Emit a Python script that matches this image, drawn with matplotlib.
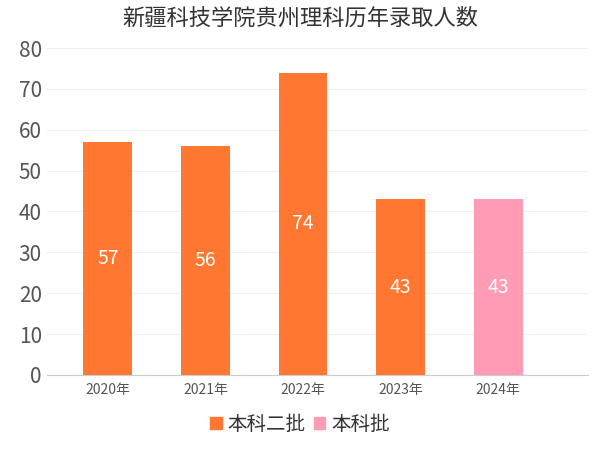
import matplotlib
matplotlib.use("Agg")
import matplotlib.pyplot as plt
from matplotlib.patches import Patch
from matplotlib import font_manager as fm

cjk = None
for f in fm.findSystemFonts():
    n = f.lower()
    if "notosanscjk" in n.replace(" ", "").replace("-", "") or "notosanscjk" in n.replace("_", ""):
        if "regular" in n or cjk is None:
            cjk = f
if cjk:
    fm.fontManager.addfont(cjk)
    name = fm.FontProperties(fname=cjk).get_name()
    plt.rcParams["font.family"] = [name, "DejaVu Sans"]
else:
    plt.rcParams["font.family"] = ["Noto Sans CJK SC", "Noto Sans CJK JP", "DejaVu Sans"]

years = ["2020年", "2021年", "2022年", "2023年", "2024年"]
batch = ["本科二批", "本科二批", "本科二批", "本科二批", "本科批"]
values = [57, 56, 74, 43, 43]
series_names = ["本科二批", "本科批"]
colors = {"本科二批": "#FF7731", "本科批": "#FF9BB5"}

fig = plt.figure(figsize=(6, 4.5), dpi=100)
ax = fig.add_axes([0.078, 0.167, 0.902, 0.726])
x = list(range(len(years)))
ax.bar(x, values, width=0.5, color=[colors[b] for b in batch], zorder=2)
for xi, v in zip(x, values):
    ax.text(xi, v / 2, str(v), ha="center", va="center", color="white", fontsize=14, zorder=3)

ax.set_xlim(-0.626, 4.92)
ax.set_ylim(0, 80)
ax.set_yticks(range(0, 81, 10))
ax.set_xticks(x)
ax.set_xticklabels(years, fontsize=10, color="#555555")
ax.tick_params(axis="y", labelsize=15, colors="#555555", length=0)
ax.tick_params(axis="x", length=0, pad=6)
ax.grid(axis="y", color="#F0F0F0", linewidth=0.8, zorder=0)
for s in ["top", "right", "left"]:
    ax.spines[s].set_visible(False)
ax.spines["bottom"].set_color("#CCCCCC")

fig.suptitle("新疆科技学院贵州理科历年录取人数", fontsize=16, y=0.985, color="#333333")
handles = [Patch(color=colors[n]) for n in series_names]
fig.legend(handles, series_names, loc="lower center", ncol=2, frameon=False,
           fontsize=14, bbox_to_anchor=(0.5, -0.005), handlelength=0.6, handleheight=0.6,
           handletextpad=0.3, columnspacing=0.4, labelcolor="#333333")
fig.savefig("out.png", dpi=100)
